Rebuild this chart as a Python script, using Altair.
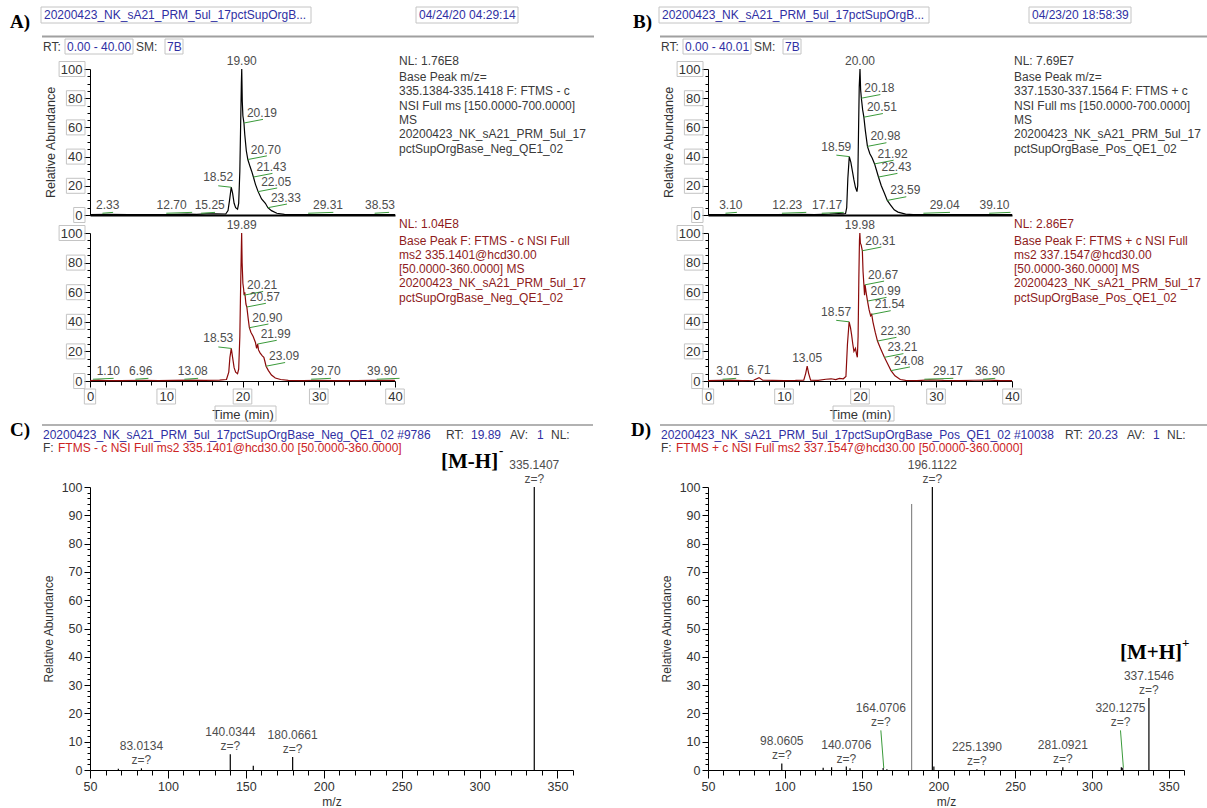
import altair as alt
import numpy as np
import pandas as pd

W, H = 1207, 808
SANS = "Liberation Sans"
SERIF = "Liberation Serif"
BLUE = "#2f2fa3"
DARK = "#3a3a3a"
REDTXT = "#8e1b1b"
REDHDR = "#cc2424"
GREEN = "#3a9a3a"
PEAKTXT = "#4d4d4d"
TRACE_RED = "#8b0a0a"
BOXC = "#c4c4c4"

# ---------------- chromatogram traces (time in min, relative abundance %) ----------------
a_top_t = [0, 2.33, 5, 8, 10, 12.7, 14, 15.25, 16.5, 17.8, 18.1, 18.3, 18.52, 18.7, 18.9, 19.1,
           19.35, 19.5, 19.65, 19.75, 19.85, 19.9, 19.97, 20.05, 20.19, 20.3, 20.5, 20.7, 21.0,
           21.2, 21.43, 21.7, 22.05, 22.5, 23.0, 23.33, 23.8, 24.5, 25.5, 27, 29.31, 32, 35, 38.53, 40]
a_top_i = [0.3, 0.4, 0.3, 0.3, 0.3, 0.6, 0.4, 0.8, 0.8, 0.7, 3, 10, 19, 15, 8, 5,
           4, 8, 30, 60, 90, 100, 78, 68, 63, 55, 44, 38, 33,
           30, 26, 21, 16, 11, 8, 5, 3, 1.2, 0.4, 0.2, 0.3, 0.2, 0.2, 0.3, 0.2]
a_top_lab = [19.90, 20.19, 20.70, 21.43, 22.05, 23.33, 18.52, 2.33, 12.70, 15.25, 29.31, 38.53]
a_top_kind = ["top", "right", "right", "right", "right", "right", "left", "base", "base", "base", "base", "base"]

a_bot_t = [0, 1.1, 2, 4, 6.96, 9, 11, 13.08, 15, 17, 17.9, 18.2, 18.35, 18.53, 18.7, 18.9, 19.1,
           19.35, 19.5, 19.65, 19.75, 19.85, 19.89, 19.95, 20.05, 20.15, 20.21, 20.3, 20.45, 20.57,
           20.75, 20.9, 21.1, 21.4, 21.7, 21.85, 21.99, 22.1, 22.3, 22.6, 22.8, 22.95, 23.09, 23.4,
           23.8, 24.3, 25, 26, 28, 29.7, 32, 35, 37, 39.9, 40]
a_bot_i = [0.3, 0.6, 0.3, 0.3, 0.5, 0.3, 0.4, 0.6, 0.4, 0.6, 1, 6, 16, 22, 16, 9, 6,
           5, 8, 30, 62, 90, 100, 80, 66, 62, 58, 60, 52, 50,
           42, 36, 33, 30, 26, 22, 25, 21, 19, 17, 16, 13, 10, 7,
           4, 2, 1, 0.4, 0.3, 0.5, 0.3, 0.3, 0.4, 0.5, 0.3]
a_bot_lab = [19.89, 20.21, 20.57, 20.90, 21.99, 23.09, 18.53, 1.10, 6.96, 13.08, 29.70, 39.90]
a_bot_kind = ["top", "right", "right", "right", "right", "right", "left", "base", "base", "base", "base", "base"]

b_top_t = [0, 3.1, 6, 9, 12.23, 14, 16, 17.17, 17.8, 18.1, 18.25, 18.4, 18.59, 18.8, 19.0, 19.2,
           19.4, 19.6, 19.7, 19.8, 19.9, 20.0, 20.08, 20.18, 20.35, 20.51, 20.7, 20.98, 21.3, 21.6,
           21.92, 22.15, 22.43, 22.8, 23.2, 23.59, 24.0, 24.5, 25, 26, 27, 29.04, 32, 35, 39.1, 40]
b_top_i = [0.2, 0.3, 0.2, 0.2, 0.4, 0.3, 0.6, 1.0, 0.8, 1, 5, 25, 40, 36, 30, 24,
           19, 16, 20, 55, 88, 100, 86, 80, 72, 67, 58, 47, 42, 39,
           35, 31, 26, 20, 15, 10, 7, 3.5, 2, 0.6, 0.3, 0.3, 0.2, 0.2, 0.3, 0.2]
b_top_lab = [20.00, 20.18, 20.51, 20.98, 21.92, 22.43, 23.59, 18.59, 3.10, 12.23, 17.17, 29.04, 39.10]
b_top_kind = ["top", "right", "right", "right", "right", "right", "right", "left", "base", "base", "base", "base", "base"]

b_bot_t = [0, 1.5, 3.01, 4.5, 6.0, 6.71, 7.2, 8.5, 10, 11.5, 12.6, 12.85, 13.05, 13.25, 13.5, 14.5,
           15.5, 16.2, 16.8, 17.3, 17.8, 18.15, 18.35, 18.57, 18.75, 18.9, 19.05, 19.2, 19.4, 19.55,
           19.65, 19.75, 19.85, 19.93, 19.98, 20.05, 20.15, 20.31, 20.4, 20.5, 20.6, 20.67, 20.8,
           20.99, 21.2, 21.4, 21.54, 21.7, 22.0, 22.3, 22.7, 23.21, 23.6, 24.08, 24.6, 25.3, 26,
           27.5, 29.17, 31, 33, 35, 36.9, 38.5, 40]
b_bot_i = [0.3, 0.4, 0.6, 0.3, 0.5, 2.3, 0.5, 0.4, 0.3, 0.4, 0.6, 5, 10, 5, 0.6, 0.4,
           1.2, 1.5, 1.0, 1.8, 1.5, 3, 25, 40, 36, 31, 25, 20, 22, 18,
           16, 30, 70, 95, 100, 93, 92, 88, 74, 66, 58, 65, 60,
           54, 48, 44, 45, 40, 33, 27, 22, 16, 12, 7, 3.5, 1, 0.4,
           0.3, 0.8, 0.4, 0.3, 0.5, 0.6, 0.3, 0.3]
b_bot_lab = [19.98, 13.05, 6.71, 20.31, 20.67, 20.99, 21.54, 22.30, 23.21, 24.08, 18.57, 3.01, 29.17, 36.90]
b_bot_kind = ["top", "top", "top", "right", "right", "right", "right", "right", "right", "right", "left", "base", "base", "base"]

# ---------------- MS2 spectra (m/z, relative abundance %) ----------------
c_mz = [68.2, 83.0134, 140.0344, 154.8, 180.0661, 335.1407]
c_int = [0.4, 0.6, 5.6, 1.5, 4.6, 100]
c_lab = [83.0134, 140.0344, 180.0661, 335.1407]

d_mz = [98.0605, 125.0, 130.5, 140.0706, 142.5, 164.0706, 166.5, 182.6, 196.1122, 197.1,
        225.1390, 281.0921, 319.2, 320.1275, 337.1546]
d_int = [2.3, 0.8, 1.0, 1.2, 0.6, 0.7, 0.3, 94, 100, 1.2, 0.3, 1.0, 1.0, 0.8, 25.4]
d_lab = [98.0605, 140.0706, 164.0706, 196.1122, 225.1390, 281.0921, 320.1275, 337.1546]
d_raised = [164.0706, 320.1275]
d_gray = [182.6]

# ---------------- texts ----------------
a_file = "20200423_NK_sA21_PRM_5ul_17pctSupOrgB..."
a_date = "04/24/20 04:29:14"
b_date = "04/23/20 18:58:39"
a_rt, b_rt = "0.00 - 40.00", "0.00 - 40.01"
a_top_note = ["NL: 1.76E8", "Base Peak m/z=", "335.1384-335.1418 F: FTMS - c",
              "NSI Full ms [150.0000-700.0000]", "MS", "20200423_NK_sA21_PRM_5ul_17",
              "pctSupOrgBase_Neg_QE1_02"]
b_top_note = ["NL: 7.69E7", "Base Peak m/z=", "337.1530-337.1564 F: FTMS + c",
              "NSI Full ms [150.0000-700.0000]", "MS", "20200423_NK_sA21_PRM_5ul_17",
              "pctSupOrgBase_Pos_QE1_02"]
a_bot_note = ["NL: 1.04E8", "Base Peak F: FTMS - c NSI Full", "ms2 335.1401@hcd30.00",
              "[50.0000-360.0000]  MS", "20200423_NK_sA21_PRM_5ul_17", "pctSupOrgBase_Neg_QE1_02"]
b_bot_note = ["NL: 2.86E7", "Base Peak F: FTMS + c NSI Full", "ms2 337.1547@hcd30.00",
              "[50.0000-360.0000]  MS", "20200423_NK_sA21_PRM_5ul_17", "pctSupOrgBase_Pos_QE1_02"]
c_head = ["20200423_NK_sA21_PRM_5ul_17pctSupOrgBase_Neg_QE1_02 #9786", "19.89",
          "FTMS - c NSI Full ms2 335.1401@hcd30.00 [50.0000-360.0000]"]
d_head = ["20200423_NK_sA21_PRM_5ul_17pctSupOrgBase_Pos_QE1_02 #10038", "20.23",
          "FTMS + c NSI Full ms2 337.1547@hcd30.00 [50.0000-360.0000]"]

# ---------------- style: horizontal nudge (min) of baseline labels, in label order ----------------
a_top_nudge = [0.0, -2.0, 0.45, 1.9, -0.5]
a_bot_nudge = [1.3, -0.3, 0.4, 1.2, -1.6]
b_top_nudge = [-0.1, -1.8, -1.5, 2.1, -1.4]
b_bot_nudge = [-0.4, 2.4, 0.2]

ONE = pd.DataFrame({"k": [0]})


def txt(s, x, y, color=DARK, size=12, font=SANS, weight="normal", align="left", baseline="middle"):
    return alt.Chart(ONE).mark_text(text=s, font=font, fontSize=size, fontWeight=weight, color=color,
                                    align=align, baseline=baseline).encode(x=alt.value(x), y=alt.value(y))


def box(x1, x2, y1, y2, color=BOXC):
    return alt.Chart(ONE).mark_rect(fillOpacity=0, stroke=color, strokeWidth=1).encode(
        x=alt.value(x1), x2=alt.value(x2), y=alt.value(y1), y2=alt.value(y2))


def hline(x1, x2, y, color="#a0a0a0", w=2):
    return alt.Chart(ONE).mark_rule(color=color, strokeWidth=w).encode(
        x=alt.value(x1), x2=alt.value(x2), y=alt.value(y))


def tick_boxes(xr, yr, top):
    """Xcalibur-style thin boxes around the axis tick labels (decoration)."""
    out = []
    pxm = (xr[1] - xr[0]) / 40.0
    pxu = (yr[0] - yr[1]) / 100.0
    for v in range(0, 101, 20):
        w = len(str(v)) * 7.3 + 4
        yc = yr[0] - v * pxu
        out.append(box(xr[0] - 5 - w, xr[0] - 5, yc - 7.5, yc + 7.5))
    if not top:
        for v in range(0, 41, 10):
            w = len(str(v)) * 7.3 + 4
            xc = xr[0] + v * pxm
            out.append(box(xc - w / 2, xc + w / 2, yr[0] + 8, yr[0] + 23))
    return out


def chrom(t, i, lab_rt, lab_kind, nudge, xr, yr, color, top):
    df = pd.DataFrame({"t": t, "i": i})

    def xs():
        return alt.Scale(domain=[0, 40], range=xr, nice=False, zero=False)

    def ys():
        return alt.Scale(domain=[0, 100], range=yr, nice=False, zero=False)

    xoff = -xr[0]
    yoff = yr[0] - H
    if top:
        xax = alt.Axis(orient="bottom", offset=yoff, ticks=False, labels=False, domainWidth=2,
                       title=None, grid=False)
        xminor = None
    else:
        xax = alt.Axis(orient="bottom", offset=yoff, values=[0, 10, 20, 30, 40], tickSize=6,
                       labelPadding=3, labelFlush=False, title="Time (min)", titlePadding=5,
                       labelFontSize=13, titleFontSize=13, grid=False)
        xminor = alt.Axis(orient="bottom", offset=yoff, values=[v for v in range(2, 40, 2) if v % 10],
                          tickSize=4, labels=False, domain=False, title=None, grid=False)
    yax = alt.Axis(orient="left", offset=xoff, values=list(range(0, 101, 20)), tickSize=6,
                   labelPadding=2, title=("Relative Abundance" if top else None), titlePadding=3,
                   labelFontSize=13, titleFontSize=12.5, grid=False)
    yminor = alt.Axis(orient="left", offset=xoff, values=[v for v in range(5, 100, 5) if v % 20],
                      tickSize=3, labels=False, domain=False, title=None, grid=False)

    layers = tick_boxes(xr, yr, top)
    layers.append(alt.Chart(df).mark_line(color=color, strokeWidth=1.2).encode(
        x=alt.X("t:Q", scale=xs(), axis=xax), y=alt.Y("i:Q", scale=ys(), axis=yax)))

    li = [0.0 if k == "base" else float(np.interp(r, t, i)) for r, k in zip(lab_rt, lab_kind)]
    lab = pd.DataFrame({"rt": lab_rt, "i": li, "kind": lab_kind,
                        "txt": [f"{r:.2f}" for r in lab_rt]})
    lab["lx"] = lab.rt
    base_idx = lab.index[lab.kind == "base"]
    for j, n in zip(base_idx, nudge):
        lab.loc[j, "lx"] = lab.loc[j, "rt"] + n

    # green connectors
    g = []
    for _, r in lab.iterrows():
        if r.kind == "right":
            g.append((r.rt, r.i, r.rt + 2.5, r.i + 2.5))
        elif r.kind == "left":
            g.append((r.rt - 1.7, r.i + 1, r.rt, r.i))
        elif r.kind == "base":
            g.append((min(r.rt, r.lx) - 0.7, 1.2, max(r.rt, r.lx) + 0.7, 1.8))
    gdf = pd.DataFrame(g, columns=["gx", "gy", "gx2", "gy2"])
    layers.append(alt.Chart(gdf).mark_rule(color=GREEN, strokeWidth=1).encode(
        x=alt.X("gx:Q", scale=xs(), axis=None), x2="gx2:Q",
        y=alt.Y("gy:Q", scale=ys(), axis=None), y2="gy2:Q"))

    specs = {"top": dict(align="center", dx=0, dy=-1),
             "right": dict(align="left", dx=3, dy=-3),
             "left": dict(align="right", dx=2, dy=-3),
             "base": dict(align="center", dx=0, dy=-3)}
    first = True
    for k, s in specs.items():
        sub = lab[lab.kind == k]
        if sub.empty:
            continue
        layers.append(alt.Chart(sub).mark_text(font=SANS, fontSize=12, color=PEAKTXT,
                                               baseline="bottom", **s).encode(
            x=alt.X("lx:Q", scale=xs(), axis=(xminor if first else None)),
            y=alt.Y("i:Q", scale=ys(), axis=(yminor if first else None)),
            text="txt:N"))
        first = False
    return layers


def spec(mz, it, gray, lab_mz, raised, xr, yr):
    df = pd.DataFrame({"mz": mz, "i": it, "z": 0.0,
                       "col": ["#8a8a8a" if m in gray else "#000000" for m in mz]})

    def xs():
        return alt.Scale(domain=[50, 360], range=xr, nice=False, zero=False)

    def ys():
        return alt.Scale(domain=[0, 100], range=yr, nice=False, zero=False)

    xoff = -xr[0]
    yoff = yr[0] - H
    xax = alt.Axis(orient="bottom", offset=yoff, values=list(range(50, 351, 50)), tickSize=8,
                   labelPadding=2, labelFlush=False, title="m/z", titlePadding=4, grid=False,
                   labelFontSize=12.5)
    xminor = alt.Axis(orient="bottom", offset=yoff, values=[v for v in range(60, 361, 10) if v % 50],
                      tickSize=5, labels=False, domain=False, title=None, grid=False)
    yax = alt.Axis(orient="left", offset=xoff, values=list(range(0, 101, 10)), tickSize=6,
                   labelPadding=2, title="Relative Abundance", titlePadding=6, grid=False,
                   labelFontSize=12.5)
    yminor = alt.Axis(orient="left", offset=xoff, values=[v for v in range(2, 100, 2) if v % 10],
                      tickSize=3, labels=False, domain=False, title=None, grid=False)

    layers = [alt.Chart(df).mark_rule(strokeWidth=1.2).encode(
        x=alt.X("mz:Q", scale=xs(), axis=xax), y=alt.Y("i:Q", scale=ys(), axis=yax), y2="z:Q",
        color=alt.Color("col:N", scale=None))]

    lookup = dict(zip(mz, it))
    rows = []
    for m in lab_mz:
        r = m in raised
        rows.append({"mz": m, "i": lookup[m], "ly": 14.0 if r else lookup[m],
                     "lx": m - 1.5 if r else m, "txt": f"{m:.4f}", "raised": r})
    lab = pd.DataFrame(rows)
    layers.append(alt.Chart(lab).mark_text(font=SANS, fontSize=12, color=PEAKTXT, align="center",
                                           baseline="middle", dy=-22).encode(
        x=alt.X("lx:Q", scale=xs(), axis=xminor), y=alt.Y("ly:Q", scale=ys(), axis=yminor),
        text="txt:N"))
    layers.append(alt.Chart(lab).mark_text(font=SANS, fontSize=12, color=PEAKTXT, align="center",
                                           baseline="middle", dy=-8, text="z=?").encode(
        x=alt.X("lx:Q", scale=xs(), axis=None), y=alt.Y("ly:Q", scale=ys(), axis=None)))
    rl = lab[lab.raised]
    if not rl.empty:
        rl = rl.assign(gx2=rl.mz + 0.4)
        layers.append(alt.Chart(rl).mark_rule(color=GREEN, strokeWidth=1).encode(
            x=alt.X("lx:Q", scale=xs(), axis=None), x2="gx2:Q",
            y=alt.Y("ly:Q", scale=ys(), axis=None), y2="i:Q"))
    return layers


A_X, B_X = [90, 395], [708, 1012]
TOP_Y, BOT_Y = [215, 69], [381, 233]
C_X, D_X = [90, 573], [708, 1184]
SPEC_Y = [770, 487]

layers = []
layers += chrom(a_top_t, a_top_i, a_top_lab, a_top_kind, a_top_nudge, A_X, TOP_Y, "#000000", True)
layers += chrom(a_bot_t, a_bot_i, a_bot_lab, a_bot_kind, a_bot_nudge, A_X, BOT_Y, TRACE_RED, False)
layers += chrom(b_top_t, b_top_i, b_top_lab, b_top_kind, b_top_nudge, B_X, TOP_Y, "#000000", True)
layers += chrom(b_bot_t, b_bot_i, b_bot_lab, b_bot_kind, b_bot_nudge, B_X, BOT_Y, TRACE_RED, False)
layers += spec(c_mz, c_int, d_gray, c_lab, [], C_X, SPEC_Y)
layers += spec(d_mz, d_int, d_gray, d_lab, d_raised, D_X, SPEC_Y)

# headers of chromatogram panels
for dx, letter, date, datex, rt, tnote, bnote in [
        (0, "A)", a_date, 419, a_rt, a_top_note, a_bot_note),
        (618, "B)", b_date, 1032, b_rt, b_top_note, b_bot_note)]:
    layers += [
        txt(letter, 10 + dx + (5 if dx else 0), 22, "black", 19, SERIF, "bold"),
        box(41 + dx, 311 + dx, 7, 23), txt(a_file, 44 + dx, 15, BLUE),
        box(datex - 3, datex + 99, 7, 23), txt(date, datex, 15, BLUE),
        hline(42 + dx, min(594 + dx, W), 36.5),
        txt("RT:", 43 + dx, 46.5), box(65 + dx, 133 + dx, 39, 54), txt(rt, 67 + dx, 46.5, BLUE),
        txt("SM:", 136 + dx, 46.5), box(165 + dx, 183 + dx, 39, 54), txt("7B", 167 + dx, 46.5, BLUE),
        box(215 + dx, 276 + dx, 406, 421),
    ]
    nx = 399 + (615 if dx else 0)
    layers.append(txt(tnote[0], nx, 61))
    for k, line in enumerate(tnote[1:]):
        layers.append(txt(line, nx, 77 + 14.3 * k))
    layers.append(txt(bnote[0], nx, 224, REDTXT))
    for k, line in enumerate(bnote[1:]):
        layers.append(txt(line, nx, 240.5 + 14.3 * k, REDTXT))

# headers of spectrum panels
spec_heads = [(0, "C)", c_head, [43, 446, 471, 510, 537, 551, 43, 58]),
              (618, "D)", d_head, [661, 1065, 1088, 1127, 1153, 1167, 661, 676])]
for dx, letter, head, pos in spec_heads:
    layers += [
        txt(letter, 10 + dx + (3 if dx else 0), 430, "black", 19, SERIF, "bold"),
        hline(42 + dx, min(593 + dx, W), 425, "#999999", 1.5),
        txt(head[0], pos[0], 435, BLUE), txt("RT:", pos[1], 435), txt(head[1], pos[2], 435, BLUE),
        txt("AV:", pos[3], 435), txt("1", pos[4], 435, BLUE), txt("NL:", pos[5], 435),
        txt("F:", pos[6], 448), txt(head[2], pos[7], 448, REDHDR),
    ]

layers += [
    txt("[M-H]", 441, 462, "black", 21, SERIF, "bold"),
    txt("-", 499, 451, "black", 13, SERIF, "bold"),
    txt("[M+H]", 1120, 653, "black", 21, SERIF, "bold"),
    txt("+", 1182, 643, "black", 13, SERIF, "bold"),
]

chart = alt.layer(*layers).resolve_scale(x="independent", y="independent").resolve_axis(
    x="independent", y="independent").properties(
    width=W, height=H, padding=0, autosize=alt.AutoSizeParams(type="none"), background="white"
).configure_view(stroke=None).configure_axis(
    domainColor="black", tickColor="black", labelColor="#333333", titleColor="#333333",
    labelFont=SANS, titleFont=SANS, labelFontSize=12, titleFontSize=12, titleFontWeight="normal",
    grid=False)

chart.save("out.html", embed_options={"renderer": "svg", "actions": False})
